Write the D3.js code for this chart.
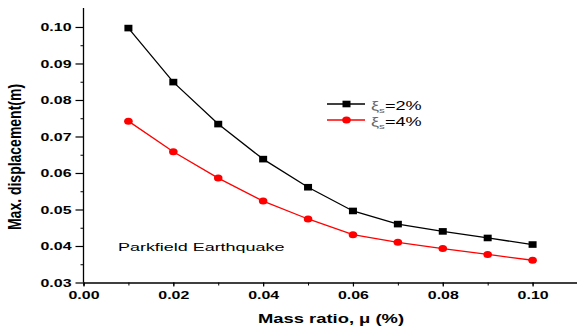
<!DOCTYPE html>
<html>
<head>
<meta charset="utf-8">
<script src="https://cdn.jsdelivr.net/npm/d3@7"></script>
<style>
  body { margin: 0; background: #fff; }
  svg { display: block; }
  .tick text { font-family: Arial, "Liberation Sans", sans-serif; font-weight: bold; font-size: 11px; fill: #000; }
</style>
</head>
<body>
<svg id="canvas" width="577" height="329"></svg>
<script>
const mass_ratio = [0.01, 0.02, 0.03, 0.04, 0.05, 0.06, 0.07, 0.08, 0.09, 0.10];
const disp_2pct = [0.0997, 0.0849, 0.0734, 0.0638, 0.0561, 0.0496, 0.0460, 0.0440, 0.0422, 0.0404];
const disp_4pct = [0.0742, 0.0658, 0.0586, 0.0523, 0.0474, 0.0431, 0.0410, 0.0393, 0.0377, 0.0361];
const x_ticks = [0.00, 0.02, 0.04, 0.06, 0.08, 0.10];
const y_ticks = [0.03, 0.04, 0.05, 0.06, 0.07, 0.08, 0.09, 0.10];

const svg = d3.select("svg#canvas");
const stretch = 1.45;   // the picture is squeezed vertically, text looks wide

const x = d3.scaleLinear().domain([0, 0.11]).range([83.5, 577.5]);
const y = d3.scaleLinear().domain([0.03, 0.1052]).range([282.5, 8]);

// x axis: minor then major
svg.append("g")
    .attr("transform", "translate(0,282.5)")
    .call(d3.axisBottom(x).tickValues(d3.range(0, 0.1101, 0.01)).tickSize(3).tickFormat(""))
    .call(g => g.select(".domain").attr("stroke-width", 1.3));
svg.append("g")
    .attr("transform", "translate(0,282.5)")
    .call(d3.axisBottom(x).tickValues(x_ticks).tickSize(4).tickPadding(5).tickFormat(d3.format(".2f")))
    .call(g => g.select(".domain").remove())
    .call(g => g.selectAll(".tick line").attr("stroke-width", 1.2))
    .call(g => g.selectAll(".tick text").attr("transform", `scale(${stretch},1)`));

// y axis
svg.append("g")
    .attr("transform", "translate(83.5,0)")
    .call(d3.axisLeft(y).tickValues(d3.range(0.035, 0.105, 0.01)).tickSize(3).tickFormat(""))
    .call(g => g.select(".domain").attr("d", `M0,${y(0.03)}V${y.range()[1]}`).attr("stroke-width", 1.3));
svg.append("g")
    .attr("transform", "translate(83.5,0)")
    .call(d3.axisLeft(y).tickValues(y_ticks).tickSize(8).tickFormat(d3.format(".2f")))
    .call(g => g.select(".domain").remove())
    .call(g => g.selectAll(".tick line").attr("stroke-width", 1.2))
    .call(g => g.selectAll(".tick text").attr("x", -12 / stretch).attr("transform", `scale(${stretch},1)`));

// axis titles
svg.append("text")
    .attr("transform", `translate(331,323) scale(${stretch},1)`)
    .attr("text-anchor", "middle")
    .style("font-family", "Arial, 'Liberation Sans', sans-serif")
    .style("font-weight", "bold").style("font-size", "12.7px")
    .text("Mass ratio, μ (%)");
svg.append("text")
    .attr("transform", "translate(21,157) rotate(-90) scale(1,1.3)")
    .attr("text-anchor", "middle")
    .style("font-family", "Arial, 'Liberation Sans', sans-serif")
    .style("font-weight", "bold").style("font-size", "14px")
    .text("Max. displacement(m)");

// series
const series = [
    {name: "2", vals: disp_2pct, color: "#000", square: true},
    {name: "4", vals: disp_4pct, color: "#ff0000", square: false}
];
const line = d3.line().x(d => x(d[0])).y(d => y(d[1]));

const add_marker = (sel, s) => {
    if (s.square) {
        sel.append("rect").attr("x", -4).attr("y", -3.3).attr("width", 8).attr("height", 6.6).attr("fill", s.color);
    } else {
        sel.append("ellipse").attr("rx", 4.3).attr("ry", 3.5).attr("fill", s.color);
    }
};

series.forEach(s => {
    const pts = mass_ratio.map((m, i) => [m, s.vals[i]]);
    svg.append("path")
        .attr("d", line(pts))
        .attr("fill", "none")
        .attr("stroke", s.color)
        .attr("stroke-width", 1.3);
    svg.selectAll(null)
        .data(pts)
        .join("g")
        .attr("transform", d => `translate(${x(d[0])},${y(d[1])})`)
        .each(function() { add_marker(d3.select(this), s); });
});

// legend
series.forEach((s, i) => {
    const ly = 104 + i * 16;
    const lg = svg.append("g");
    lg.append("line").attr("x1", 327).attr("x2", 365).attr("y1", ly).attr("y2", ly)
        .attr("stroke", s.color).attr("stroke-width", 1.3);
    add_marker(lg.append("g").attr("transform", `translate(346.5,${ly})`), s);
    const t = lg.append("text")
        .attr("transform", `translate(371,${ly + 5.5}) scale(${stretch},1)`)
        .style("font-family", "Arial, 'Liberation Sans', sans-serif").style("font-size", "12.5px");
    t.append("tspan").text("ξ").style("fill", "#666");
    t.append("tspan").text("s").attr("dy", 3).style("font-size", "8px").style("fill", "#666");
    t.append("tspan").text("=" + s.name + "%").attr("dy", -3);
});

svg.append("text")
    .attr("transform", "translate(118,251) scale(1.52,1)")
    .style("font-family", "Arial, 'Liberation Sans', sans-serif").style("font-size", "11.8px")
    .text("Parkfield Earthquake");
</script>
</body>
</html>
